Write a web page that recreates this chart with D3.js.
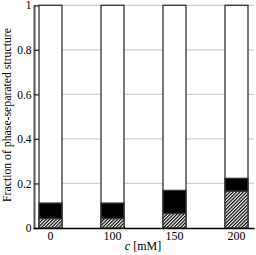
<!DOCTYPE html>
<html><head><meta charset="utf-8">
<script src="https://cdn.jsdelivr.net/npm/d3@7"></script>
<style>body{margin:0;background:#fff}svg{display:block}text{font-family:"Liberation Serif","DejaVu Serif",serif;}</style>
</head><body>
<script>
const categories = ["0","100","150","200"];
const hatched = [0.042, 0.042, 0.065, 0.165];
const solid = [0.070, 0.070, 0.104, 0.058];
const totals = [1, 1, 1, 1];
const yTicks = [0, 0.2, 0.4, 0.6, 0.8, 1];
const yTickLabels = ["0", "0.2", "0.4", "0.6", "0.8", "1"];

const W = 256, H = 255;
const svg = d3.select("body").append("svg").attr("width", W).attr("height", H);
const x = d3.scaleBand().domain(categories).range([33, 254]).paddingInner(0.629).paddingOuter(0.097);
const y = d3.scaleLinear().domain([0, 1]).range([228, 5.3]);

const defs = svg.append("defs");
const pat = defs.append("pattern").attr("id", "hatch").attr("patternUnits", "userSpaceOnUse")
  .attr("width", 2.4).attr("height", 2.4).attr("patternTransform", "rotate(45)");
pat.append("rect").attr("width", 2.4).attr("height", 2.4).attr("fill", "#fff");
pat.append("line").attr("x1", 0.6).attr("y1", 0).attr("x2", 0.6).attr("y2", 2.4).attr("stroke", "#000").attr("stroke-width", 1.2);

// gridlines
svg.append("g").selectAll("line").data(yTicks.slice(1)).join("line")
  .attr("x1", 33).attr("x2", 254).attr("y1", d => y(d)).attr("y2", d => y(d))
  .attr("stroke", "#d0d0d0").attr("stroke-width", 1.3);

const g = svg.append("g");
categories.forEach((c, i) => {
  const bx = x(c), bw = x.bandwidth();
  g.append("rect").attr("x", bx).attr("y", y(totals[i])).attr("width", bw).attr("height", y(0) - y(totals[i]))
    .attr("fill", "#fff").attr("stroke", "#333").attr("stroke-width", 1.3);
  const top1 = hatched[i] + solid[i];
  g.append("rect").attr("x", bx).attr("y", y(top1)).attr("width", bw).attr("height", y(hatched[i]) - y(top1))
    .attr("fill", "#000").attr("stroke", "#333").attr("stroke-width", 1.3);
  g.append("rect").attr("x", bx).attr("y", y(hatched[i])).attr("width", bw).attr("height", y(0) - y(hatched[i]))
    .attr("fill", "url(#hatch)").attr("stroke", "#333").attr("stroke-width", 1.3);
});

// y axis
const yAxis = d3.axisLeft(y).tickValues(yTicks).tickFormat((d, i) => yTickLabels[i]).tickSizeInner(-5).tickSizeOuter(0).tickPadding(2.5);
const ya = svg.append("g").attr("transform", "translate(34,0)").call(yAxis);
ya.select(".domain").attr("stroke", "#555").attr("stroke-width", 2);
ya.selectAll(".tick line").attr("stroke", "#333").attr("stroke-width", 1.3);
ya.selectAll(".tick text").attr("font-size", 11.5).attr("fill", "#000").attr("font-family", "Liberation Serif");

// x axis
const xAxis = d3.axisBottom(x).tickSize(0).tickPadding(3.5);
const xa = svg.append("g").attr("transform", "translate(0,228)").call(xAxis);
xa.select(".domain").attr("stroke", "#000").attr("stroke-width", 1.3);
xa.selectAll(".tick text").attr("font-size", 12).attr("fill", "#000").attr("font-family", "Liberation Serif");

// labels
const xl = svg.append("text").attr("x", 143).attr("y", 250).attr("text-anchor", "middle").attr("font-size", 12);
xl.append("tspan").attr("font-style", "italic").text("c");
xl.append("tspan").text(" [mM]");
svg.append("text").attr("transform", "translate(11,115) rotate(-90)").attr("text-anchor", "middle").attr("font-size", 11.5)
  .attr("textLength", 174).attr("lengthAdjust", "spacingAndGlyphs")
  .text("Fraction of phase-separated structure");
</script>
</body></html>
